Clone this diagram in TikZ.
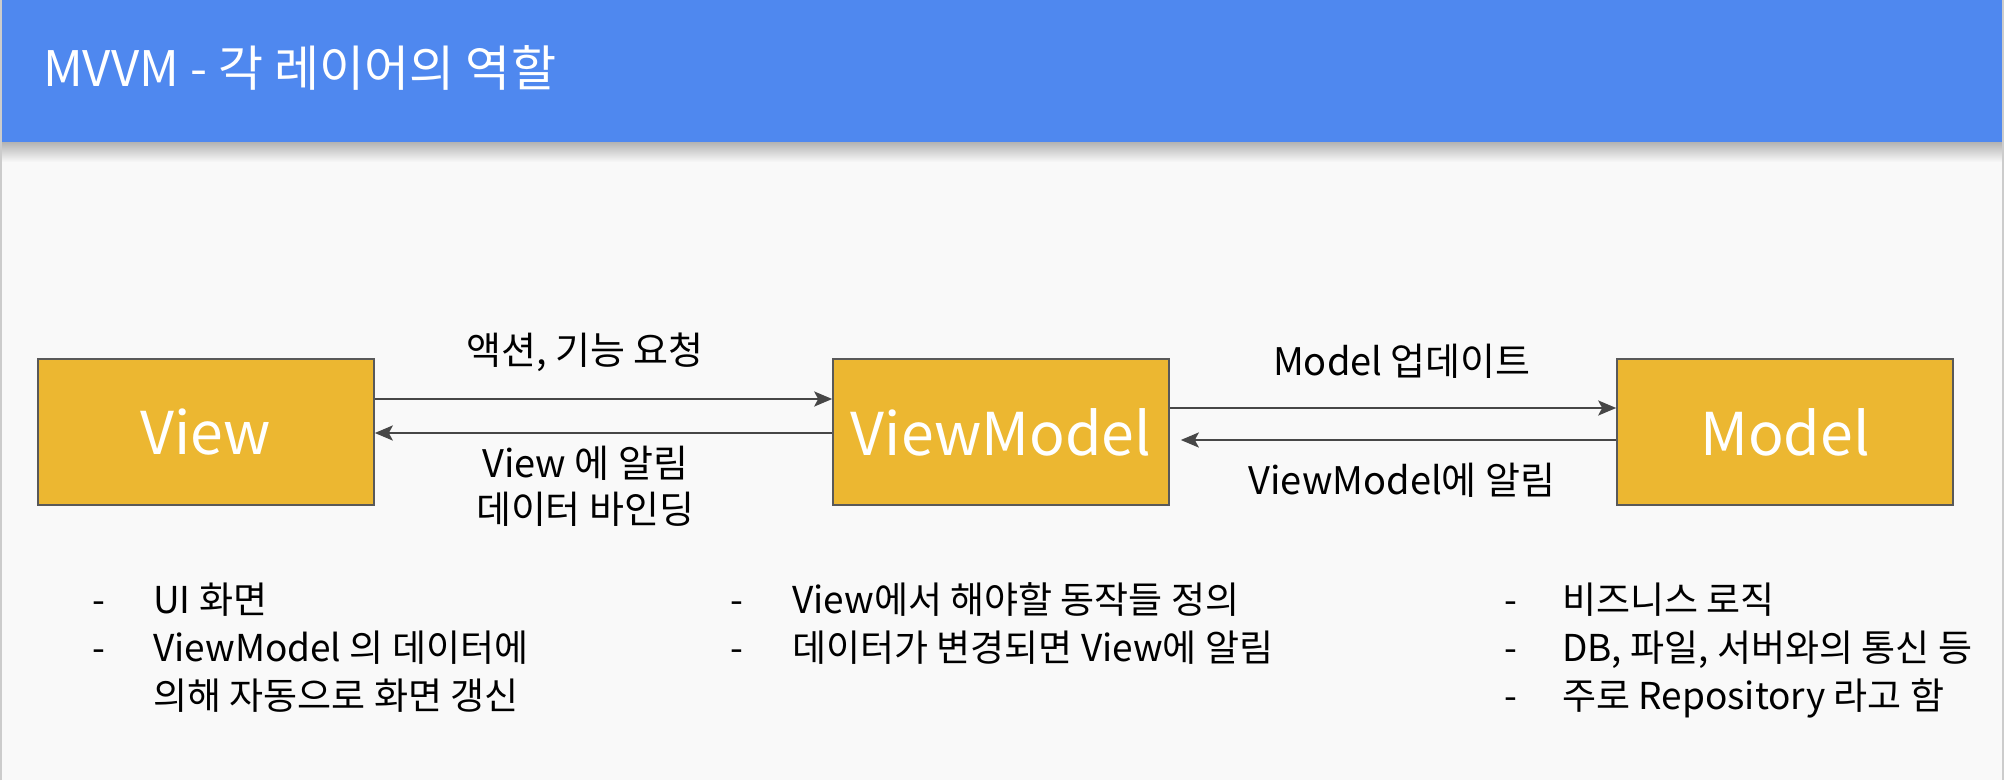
\documentclass[tikz,border=0pt]{standalone}
\usepackage{fontspec}
\setmainfont{Noto Sans CJK KR}
\usetikzlibrary{positioning,arrows.meta}
\definecolor{slidebg}{HTML}{F9F9F9}
\definecolor{headblue}{HTML}{4F88EF}
\definecolor{boxfill}{HTML}{ECB731}
\definecolor{boxline}{HTML}{595959}
\definecolor{arrowgray}{HTML}{474747}

\tikzset{
  layer/.style={draw=boxline,line width=1.6pt,fill=boxfill,text=white,
    minimum width=336pt,minimum height=146pt,inner sep=0pt,
    font=\fontsize{59}{70}\selectfont},
  msg/.style={inner sep=0pt,align=center,font=\fontsize{38}{46}\selectfont},
  note/.style={anchor=base west,inner sep=0pt,font=\fontsize{37}{48}\selectfont},
  link/.style={draw=arrowgray,line width=2.4pt,
    -{Stealth[length=18pt,width=15pt,inset=4pt]}},
}

\begin{document}
\begin{tikzpicture}[x=1pt,y=1pt,node distance=795pt]
  \useasboundingbox (0,0) rectangle (2004,780);
  % slide background and header bar
  \fill[slidebg] (0,0) rectangle (2004,780);
  \shade[top color=black!30,bottom color=slidebg] (0,618) rectangle (2004,638);
  \fill[headblue] (0,638) rectangle (2004,780);
  \draw[black!20,line width=2pt] (1,0) -- (1,780) (2003,0) -- (2003,780);
  \node [anchor=base west,inner sep=0pt,text=white,font=\fontsize{49}{58}\selectfont]
    (title) at (43,693) {MVVM - 각 레이어의 역할};

  % the three layers
  \node [layer] (view) at (206,348) {View};
  \node [layer,right of=view] (vm) {ViewModel};
  \node [layer,right of=vm,xshift=-11pt] (model) {Model};

  \draw[link,transform canvas={yshift=33pt}] (view) -- node[msg,pos=0.46,above=26pt] {액션, 기능 요청} (vm);
  \draw[link,transform canvas={yshift=-1pt}] (vm) -- node[msg,pos=0.54,below=12pt] {View 에 알림\\데이터 바인딩} (view);
  \draw[link,transform canvas={yshift=24pt}] (vm) -- node[msg,pos=0.52,above=28pt] {Model 업데이트} (model);
  \draw[link,shorten >=11pt,transform canvas={yshift=-8pt}] (model) -- node[msg,pos=0.48,below=22pt] {ViewModel에 알림} (vm);

  % notes under each layer
  \foreach \x/\r/\t in {153/0/UI 화면, 153/1/ViewModel 의 데이터에, 153/2/의해 자동으로 화면 갱신,
      792/0/View에서 해야할 동작들 정의, 792/1/데이터가 변경되면 View에 알림,
      1562/0/비즈니스 로직, 1562/1/{DB, 파일, 서버와의 통신 등}, 1562/2/주로 Repository 라고 함}
    \node [note] (note\x-\r) at (\x,167-48*\r) {\t};
  \foreach \x/\r in {92/0,92/1,730/0,730/1,1504/0,1504/1,1504/2}
    \node [note] (dash\x-\r) at (\x,167-48*\r) {-};
\end{tikzpicture}
\end{document}
